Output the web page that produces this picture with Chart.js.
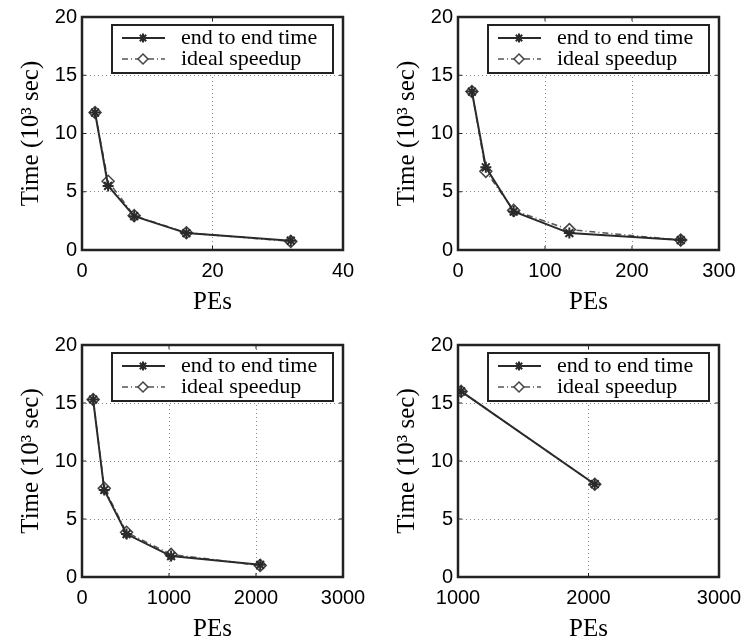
<!DOCTYPE html>
<html>
<head>
<meta charset="utf-8">
<title>End to end time vs PEs</title>
<script src="https://cdn.jsdelivr.net/npm/chart.js@4.4.1/dist/chart.umd.min.js"></script>
<style>
  html, body { margin: 0; padding: 0; background: #fff; }
  #grid { position: relative; width: 752px; height: 644px; overflow: hidden; }
  .panel { position: absolute; width: 376px; height: 322px; }
</style>
</head>
<body>
<div id="grid">
  <div class="panel" style="left:0;top:0"><canvas id="c1"></canvas></div>
  <div class="panel" style="left:376px;top:0"><canvas id="c2"></canvas></div>
  <div class="panel" style="left:0;top:322px"><canvas id="c3"></canvas></div>
  <div class="panel" style="left:376px;top:322px"><canvas id="c4"></canvas></div>
</div>
<script>
// values (time in 10^3 sec) per run size
const seriesNames = ['end to end time', 'ideal speedup'];
const yTicks = [0, 5, 10, 15, 20];

const pes1 = [2, 4, 8, 16, 32];
const endTime1 = [11.8, 5.5, 2.9, 1.45, 0.8];
const ideal1 = [11.8, 5.9, 2.95, 1.48, 0.74];
const xTicks1 = [0, 20, 40];

const pes2 = [16, 32, 64, 128, 256];
const endTime2 = [13.6, 7.1, 3.3, 1.45, 0.85];
const ideal2 = [13.6, 6.75, 3.4, 1.75, 0.85];
const xTicks2 = [0, 100, 200, 300];

const pes3 = [128, 256, 512, 1024, 2048];
const endTime3 = [15.3, 7.5, 3.7, 1.8, 1.05];
const ideal3 = [15.3, 7.65, 3.85, 1.95, 1.0];
const xTicks3 = [0, 1000, 2000, 3000];

const pes4 = [1024, 2048];
const endTime4 = [16.0, 8.0];
const ideal4 = [16.0, 8.0];
const xTicks4 = [1000, 2000, 3000];

Chart.defaults.color = '#000';

const panels = [
  { id: 'c1', pes: pes1, endTime: endTime1, ideal: ideal1, xTicks: xTicks1, top: 16, bottom: 250 },
  { id: 'c2', pes: pes2, endTime: endTime2, ideal: ideal2, xTicks: xTicks2, top: 16, bottom: 250 },
  { id: 'c3', pes: pes3, endTime: endTime3, ideal: ideal3, xTicks: xTicks3, top: 23, bottom: 256 },
  { id: 'c4', pes: pes4, endTime: endTime4, ideal: ideal4, xTicks: xTicks4, top: 23, bottom: 256 }
];

// black box around the plot with small inward ticks
const framePlugin = {
  id: 'frame',
  afterDatasetsDraw(chart) {
    const { ctx, chartArea: a, scales } = chart;
    ctx.save();
    ctx.strokeStyle = '#222';
    ctx.lineWidth = 1;
    ctx.beginPath();
    scales.x.ticks.forEach(t => {
      const px = scales.x.getPixelForValue(t.value);
      ctx.moveTo(px, a.bottom); ctx.lineTo(px, a.bottom - 4);
      ctx.moveTo(px, a.top); ctx.lineTo(px, a.top + 4);
    });
    scales.y.ticks.forEach(t => {
      const py = scales.y.getPixelForValue(t.value);
      ctx.moveTo(a.left, py); ctx.lineTo(a.left + 4, py);
      ctx.moveTo(a.right, py); ctx.lineTo(a.right - 4, py);
    });
    ctx.stroke();
    ctx.lineWidth = 2.5;
    ctx.strokeRect(a.left, a.top, a.right - a.left, a.bottom - a.top);
    ctx.restore();
  }
};

// legend box in the upper right corner of the plot, line sample with marker
const boxLegend = {
  id: 'boxLegend',
  afterDraw(chart) {
    const { ctx, chartArea: a } = chart;
    const w = 221, h = 48;
    const x0 = a.right - 10 - w, y0 = a.top + 8;
    ctx.save();
    ctx.fillStyle = '#fff';
    ctx.fillRect(x0, y0, w, h);
    ctx.lineWidth = 2;
    ctx.strokeStyle = '#222';
    ctx.strokeRect(x0, y0, w, h);
    chart.data.datasets.forEach((ds, i) => {
      const y = y0 + 13 + i * 21;
      ctx.strokeStyle = ds.borderColor;
      ctx.lineWidth = ds.borderWidth;
      ctx.setLineDash(ds.borderDash || []);
      ctx.beginPath();
      ctx.moveTo(x0 + 10, y);
      ctx.lineTo(x0 + 53, y);
      ctx.stroke();
      ctx.setLineDash([]);
      ctx.fillStyle = ds.pointBackgroundColor;
      ctx.strokeStyle = ds.pointBorderColor;
      ctx.lineWidth = ds.pointBorderWidth;
      Chart.helpers.drawPoint(ctx, {
        pointStyle: ds.pointStyle, radius: ds.pointRadius - 1,
        borderWidth: ds.pointBorderWidth, rotation: 0
      }, x0 + 31, y);
      ctx.fillStyle = '#000';
      ctx.font = '22px "Liberation Serif"';
      ctx.textBaseline = 'middle';
      ctx.textAlign = 'left';
      ctx.fillText(ds.label, x0 + 69, y);
    });
    ctx.restore();
  }
};

function makeChart(p) {
  const xHeight = 67;
  const toPoints = vals => p.pes.map((x, i) => ({ x: x, y: vals[i] }));
  new Chart(document.getElementById(p.id), {
    type: 'line',
    data: {
      datasets: [
        {
          label: seriesNames[0],
          data: toPoints(p.endTime),
          borderColor: '#2a2a2a',
          borderWidth: 2,
          pointStyle: 'star',
          pointRadius: 5.5,
          pointBorderWidth: 2,
          pointBorderColor: '#2a2a2a',
          pointBackgroundColor: '#2a2a2a'
        },
        {
          label: seriesNames[1],
          data: toPoints(p.ideal),
          borderColor: '#555',
          borderWidth: 1.5,
          borderDash: [6, 3, 1, 3],
          pointStyle: 'rectRot',
          pointRadius: 6,
          pointBorderWidth: 1.5,
          pointBorderColor: '#444',
          pointBackgroundColor: '#fff'
        }
      ]
    },
    options: {
      responsive: true,
      maintainAspectRatio: false,
      animation: false,
      events: [],
      layout: {
        padding: { left: 0, right: 33, top: p.top, bottom: Math.max(0, 322 - p.bottom - xHeight) }
      },
      plugins: { legend: { display: false }, tooltip: { enabled: false } },
      scales: {
        x: {
          type: 'linear',
          min: p.xTicks[0],
          max: p.xTicks[p.xTicks.length - 1],
          afterBuildTicks: s => { s.ticks = p.xTicks.map(v => ({ value: v })); },
          afterFit: s => { s.height = xHeight; },
          ticks: {
            autoSkip: false, maxRotation: 0, padding: 9,
            callback: v => String(v),
            font: { family: 'Liberation Sans', size: 20 }
          },
          grid: { color: '#888', lineWidth: 1, drawTicks: false },
          border: { display: false, dash: [1, 3] },
          title: {
            display: true, text: 'PEs', padding: { top: 0, bottom: 0 },
            font: { family: 'Liberation Serif', size: 25 }
          }
        },
        y: {
          min: yTicks[0],
          max: yTicks[yTicks.length - 1],
          afterBuildTicks: s => { s.ticks = yTicks.map(v => ({ value: v })); },
          afterFit: s => { s.width = 82; },
          ticks: {
            padding: 5,
            callback: v => String(v),
            font: { family: 'Liberation Sans', size: 20 }
          },
          grid: { color: '#888', lineWidth: 1, drawTicks: false },
          border: { display: false, dash: [1, 3] },
          title: {
            display: true, text: 'Time (10\u00b3 sec)', padding: { top: 16, bottom: 0 },
            font: { family: 'Liberation Serif', size: 25 }
          }
        }
      }
    },
    plugins: [framePlugin, boxLegend]
  });
}

panels.forEach(makeChart);
</script>
</body>
</html>
